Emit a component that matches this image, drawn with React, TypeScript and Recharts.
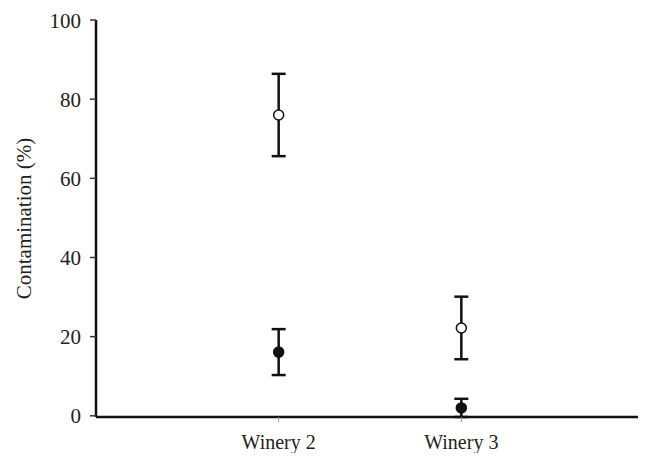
import { ErrorBar, Scatter, ScatterChart, XAxis, YAxis } from 'recharts';

// winery categories and their x positions on the numeric axis
const wineries = ['Winery 2', 'Winery 3'];
const positions = [1, 2];

// open circles (upper series) and filled circles (lower series), with +/- error
const openValues = [76, 22.2];
const openErrors = [10.4, 7.9];
const filledValues = [16.1, 2.0];
const filledErrors = [5.8, 2.3];

const yTicks = [0, 20, 40, 60, 80, 100];

const openData = positions.map((x, i) => ({ x, y: openValues[i], err: openErrors[i] }));
const filledData = positions.map((x, i) => ({ x, y: filledValues[i], err: filledErrors[i] }));

const font = "'Liberation Serif', 'DejaVu Serif', serif";

const YLabel = (props: any) => {
    const { viewBox } = props;
    const cx = viewBox.x + 16;
    const cy = viewBox.y + viewBox.height / 2;
    return (
        <text
            x={cx}
            y={cy}
            transform={`rotate(-90, ${cx}, ${cy})`}
            textAnchor="middle"
            dominantBaseline="central"
            style={{ fontFamily: font, fontSize: 21 }}
            fill="#222"
        >
            Contamination (%)
        </text>
    );
};

export default function App() {
    return (
        <div style={{ width: 638, height: 445, background: '#fff', fontFamily: font }}>
            <ScatterChart width={638} height={445} margin={{ top: 12, right: 2, bottom: 0, left: 0 }}
                style={{ fontFamily: font }}>
                <XAxis
                    type="number"
                    dataKey="x"
                    domain={[0, 3]}
                    ticks={positions}
                    tickFormatter={(v: number) => wineries[positions.indexOf(v)] ?? ''}
                    height={36}
                    tickSize={5}
                    tickMargin={13}
                    axisLine={{ stroke: '#111', strokeWidth: 2.5 }}
                    tickLine={{ stroke: '#999', strokeWidth: 1 }}
                    tick={{ fill: '#222', fontSize: 20, style: { fontFamily: font } }}
                />
                <YAxis
                    type="number"
                    dataKey="y"
                    domain={[0, 100]}
                    ticks={yTicks}
                    width={88}
                    tickSize={6}
                    tickMargin={9}
                    axisLine={{ stroke: '#111', strokeWidth: 2.5 }}
                    tickLine={{ stroke: '#333', strokeWidth: 1.5 }}
                    tick={{ fill: '#222', fontSize: 21, style: { fontFamily: font } }}
                    label={{ content: YLabel }}
                />
                <Scatter data={openData} fill="#fff" stroke="#111" strokeWidth={1.5} isAnimationActive={false}
                    shape={(p: any) => <circle cx={p.cx} cy={p.cy} r={5} fill="#fff" stroke="#111" strokeWidth={1.5} />}>
                    <ErrorBar dataKey="err" direction="y" width={7} stroke="#111" strokeWidth={2.5} />
                </Scatter>
                <Scatter data={filledData} fill="#111" stroke="#111" strokeWidth={1.5} isAnimationActive={false}
                    shape={(p: any) => <circle cx={p.cx} cy={p.cy} r={5} fill="#111" stroke="#111" strokeWidth={1.5} />}>
                    <ErrorBar dataKey="err" direction="y" width={7} stroke="#111" strokeWidth={2.5} />
                </Scatter>
            </ScatterChart>
        </div>
    );
}
